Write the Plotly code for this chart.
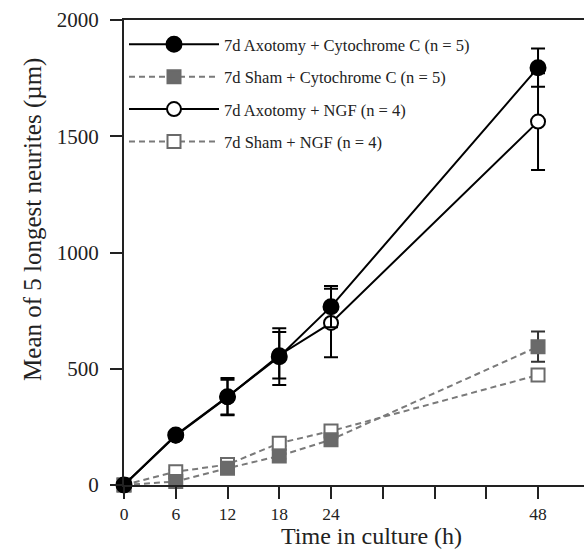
import plotly.graph_objects as go

time_h = [0, 6, 12, 18, 24, 48]
x_tick_vals = [0, 6, 12, 18, 24, 30, 36, 42, 48]
x_tick_text = ["0", "6", "12", "18", "24", "", "", "", "48"]
y_tick_vals = [0, 500, 1000, 1500, 2000]

axo_cytc = [0, 215, 380, 552, 767, 1795]
axo_cytc_err = [0, 15, 80, 122, 89, 82]
sham_cytc = [0, 15, 72, 125, 195, 595]
sham_cytc_err = [0, 8, 8, 12, 12, 65]
axo_ngf = [0, 212, 378, 558, 697, 1563]
axo_ngf_err = [0, 15, 75, 100, 147, 208]
sham_ngf = [0, 57, 88, 180, 232, 473]
sham_ngf_err = [0, 8, 8, 12, 12, 20]

names = [
    "7d Axotomy + Cytochrome C (n = 5)",
    "7d Sham + Cytochrome C (n = 5)",
    "7d Axotomy + NGF (n = 4)",
    "7d Sham + NGF (n = 4)",
]

FONT = "Liberation Serif"
fig = go.Figure()

def add(y, err, name, rank, lcolor, dash, symbol, mcolor, mline, ecolor, size):
    fig.add_trace(go.Scatter(
        x=time_h, y=y, name=name, mode="lines+markers",
        legendgroup=name, legendrank=rank,
        line=dict(color=lcolor, width=2, dash=dash),
        marker=dict(symbol=symbol, size=size, color=mcolor,
                    line=dict(color=mline, width=2)),
        error_y=dict(type="data", array=err, visible=True, color=ecolor,
                     thickness=2, width=7),
        cliponaxis=False,
    ))

add(sham_ngf, sham_ngf_err, names[3], 4, "#7a7a7a", "6px,4px", "square", "white", "#6a6a6a", "#333333", 13)
add(sham_cytc, sham_cytc_err, names[1], 2, "#7a7a7a", "6px,4px", "square", "#6a6a6a", "#6a6a6a", "#333333", 13)
add(axo_ngf, axo_ngf_err, names[2], 3, "black", "solid", "circle", "white", "black", "black", 14)
add(axo_cytc, axo_cytc_err, names[0], 1, "black", "solid", "circle", "black", "black", "black", 15)

fig.update_layout(
    width=584, height=552,
    margin=dict(l=124, r=0, t=20, b=67),
    paper_bgcolor="white", plot_bgcolor="white",
    font=dict(family=FONT, color="#222", size=16),
    showlegend=True,
    legend=dict(
        x=0.0, y=0.985, xanchor="left", yanchor="top",
        traceorder="grouped", tracegroupgap=8,
        font=dict(family=FONT, size=16.5, color="#222"),
        itemwidth=90, bgcolor="rgba(0,0,0,0)",
    ),
    xaxis=dict(
        range=[0, 53.33], tickvals=x_tick_vals, ticktext=x_tick_text,
        showline=True, linecolor="#222", linewidth=2, mirror=True,
        ticks="outside", ticklen=12, tickwidth=2, tickcolor="#222",
        showgrid=False, zeroline=False, ticklabelstandoff=0,
        tickfont=dict(family=FONT, size=17.5, color="#222"),
    ),
    yaxis=dict(
        range=[0, 2000], tickvals=y_tick_vals,
        showline=True, linecolor="#222", linewidth=2,
        ticks="outside", ticklen=12, tickwidth=2, tickcolor="#222",
        showgrid=False, zeroline=False, ticklabelstandoff=7,
        tickfont=dict(family=FONT, size=21, color="#222"),
    ),
    annotations=[
        dict(text="Time in culture (h)", x=0.539, y=0.0, xref="paper", yref="paper",
             xanchor="center", yanchor="top", yshift=-36, showarrow=False,
             font=dict(family=FONT, size=24, color="#222")),
        dict(text="Mean of 5 longest neurites (µm)", textangle=-90,
             x=0, y=0.57, xref="paper", yref="paper", xanchor="center", yanchor="middle",
             xshift=-91, showarrow=False,
             font=dict(family=FONT, size=25, color="#222")),
    ],
)

fig.write_html("out.html")
